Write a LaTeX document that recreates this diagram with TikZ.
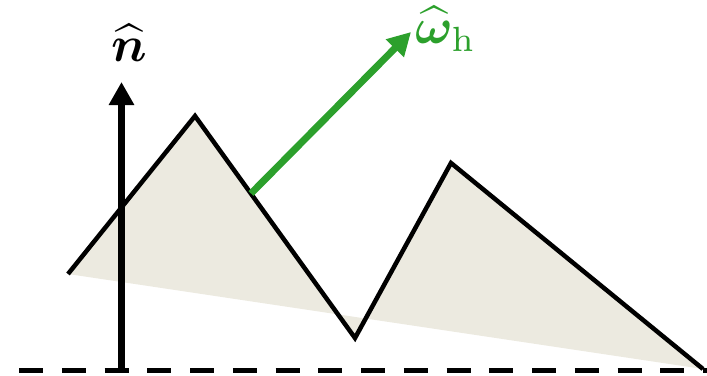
\documentclass[tikz,border=0pt]{standalone}
\usepackage{amsmath,amssymb}
\usepackage{bm}
\usetikzlibrary{arrows.meta}
\definecolor{sand}{RGB}{236,234,224}
\definecolor{hgreen}{RGB}{44,160,44}
\tikzset{
  surface/.style={draw=black, line width=4.5pt, line join=miter},
  ground/.style={line width=5pt, dash pattern=on 24pt off 18.75pt},
  dirarrow/.style={line width=7pt, -{Triangle[length=23pt,width=24pt]}},
  lbl/.style={inner sep=0pt, scale=5}
}
\begin{document}
\begin{tikzpicture}[x=1pt,y=-1pt]
  \useasboundingbox (0,0) rectangle (707,375);
  % surface profile
  \coordinate (s0) at (68,274);
  \coordinate (s1) at (195,116);
  \coordinate (s2) at (355,338);
  \coordinate (s3) at (451,163);
  \coordinate (s4) at (703,369);
  \fill[sand] (s0) -- (s1) -- (s2) -- (s3) -- (s4) -- cycle;
  % macro surface
  \coordinate (g0) at (19,370);
  \coordinate (g1) at (707,370);
  \draw[ground] (g0) -- (g1);
  % normal
  \coordinate (n0) at (121.5,370);
  \coordinate (n1) at (121.5,82);
  \draw[dirarrow, black] (n0) -- (n1);
  \draw[surface] (s0) -- (s1) -- (s2) -- (s3) -- (s4);
  % half vector
  \coordinate (h0) at (251,193.5);
  \coordinate (h1) at (411,32);
  \draw[dirarrow, hgreen] (h0) -- (h1);
  \node[lbl] (nlabel) at (129,43) {$\widehat{\bm{n}}$};
  \node[lbl, text=hgreen] (wlabel) at (446,29) {$\widehat{\bm{\omega}}_{\mathrm{h}}$};
\end{tikzpicture}
\end{document}
